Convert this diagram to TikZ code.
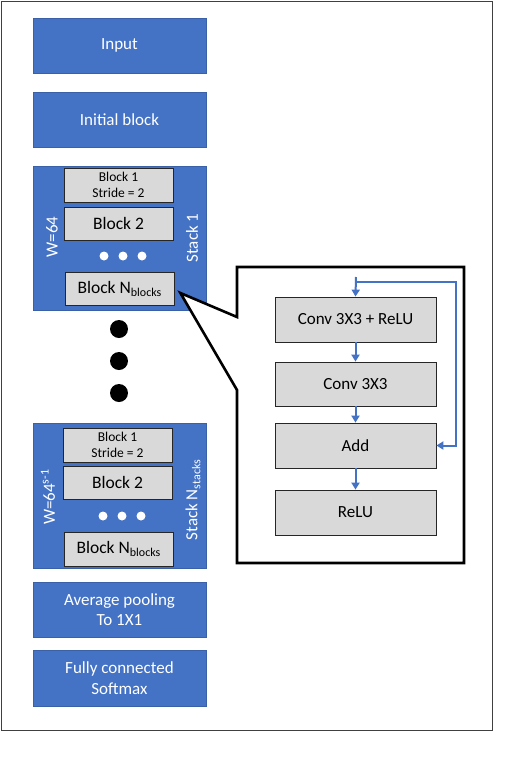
\documentclass[tikz,border=0pt]{standalone}
\usepackage{fontspec}
\setmainfont{Carlito}
\usetikzlibrary{arrows.meta,calc}
\definecolor{sblue}{HTML}{4472C4}
\definecolor{sgray}{HTML}{D9D9D9}
\newcommand{\subtxt}[1]{\raisebox{-0.35ex}{\fontsize{12}{12}\selectfont #1}}
\begin{document}
\begin{tikzpicture}[x=1pt,y=-1pt,
  bluebox/.style={draw=sblue!85!black,line width=0.6pt,fill=sblue,text=white,inner sep=0pt,align=center,font=\fontsize{17}{20.5}\selectfont},
  graybox/.style={draw=black!85,line width=0.8pt,fill=sgray,inner sep=0pt,align=center,font=\fontsize{17.5}{20}\selectfont},
  smallbox/.style={graybox,font=\fontsize{13.5}{15.5}\selectfont},
  sidelabel/.style={text=white,rotate=90,inner sep=0pt,font=\fontsize{17}{19}\selectfont},
  wdot/.style={circle,fill=white,inner sep=0pt,minimum size=9pt},
  bdot/.style={circle,fill=black,inner sep=0pt,minimum size=18pt},
  flow/.style={draw=sblue,line width=2pt,-{Triangle[length=7pt,width=8pt]}},
  innerbox/.style={draw=black!85,line width=0.8pt,fill=sgray,inner sep=0pt,minimum width=161pt,font=\fontsize{17}{20}\selectfont}
]
\useasboundingbox (0,0) rectangle (524,764);
\fill[white] (0,0) rectangle (524,764);
% outer frame
\draw[black!75,line width=1pt] (1,1) rectangle (492,730);

% left column
\node[bluebox,minimum width=173pt,minimum height=55pt] (input) at (119.5,45.5) {Input};
\node[bluebox,minimum width=173pt,minimum height=55pt] (init) at (119.5,119.5) {Initial block};

% stack 1
\node[bluebox,minimum width=173pt,minimum height=144pt] (s1) at (119.5,238) {};
\node[smallbox,minimum width=109pt,minimum height=34pt] (s1b1) at (118.5,185) {Block 1\\Stride = 2};
\node[graybox,minimum width=109pt,minimum height=33pt] (s1b2) at (118.5,223.5) {Block 2};
\node[wdot] (s1d1) at (104,256) {};
\node[wdot] (s1d2) at (123,256) {};
\node[wdot] (s1d3) at (142,256) {};
\node[graybox,minimum width=109pt,minimum height=33pt] (s1bn) at (119.5,288.5) {Block N\subtxt{blocks}};
\node[sidelabel] (s1w) at (52,237) {W=64};
\node[sidelabel] (s1s) at (192,238) {Stack 1};

% big dots
\node[bdot] (bd1) at (119,329) {};
\node[bdot] (bd2) at (119,361) {};
\node[bdot] (bd3) at (119,393) {};

% stack N
\node[bluebox,minimum width=173pt,minimum height=145pt] (sn) at (119.5,495.5) {};
\node[smallbox,minimum width=109pt,minimum height=34pt] (snb1) at (117.5,445) {Block 1\\Stride = 2};
\node[graybox,minimum width=109pt,minimum height=33pt] (snb2) at (117.5,482.5) {Block 2};
\node[wdot] (snd1) at (103,516) {};
\node[wdot] (snd2) at (122,516) {};
\node[wdot] (snd3) at (141,516) {};
\node[graybox,minimum width=109pt,minimum height=34pt] (snbn) at (118.5,549) {Block N\subtxt{blocks}};
\node[sidelabel] (snw) at (48,497) {W=64\textsuperscript{s-1}};
\node[sidelabel] (sns) at (193,500) {Stack N\subtxt{stacks}};

\node[bluebox,minimum width=173pt,minimum height=55pt] (avg) at (119.5,609.5) {Average pooling\\To 1X1};
\node[bluebox,minimum width=173pt,minimum height=56pt] (fc) at (119.5,678) {Fully connected\\Softmax};

% callout
\coordinate (tip) at ($(s1bn.east)+(6,4.5)$);
\draw[black,line width=2.6pt,fill=white,line join=miter]
  (237,267) -- (464,267) -- (464,563) -- (237,563) -- (237,390) -- (tip) -- (237,317) -- cycle;

% inner residual block
\node[innerbox,minimum height=45pt] (c1) at (355.5,319.5) {Conv 3X3 + ReLU};
\node[innerbox,minimum height=44pt] (c2) at (355.5,384) {Conv 3X3};
\node[innerbox,minimum height=45pt] (add) at (355.5,445.5) {Add};
\node[innerbox,minimum height=45pt] (relu) at (355.5,512.5) {ReLU};

\coordinate (in) at (356,277);
\coordinate (split) at (356,282);
\coordinate (rt) at (456,282);
\draw[flow] (in) -- (c1.north);
\draw[flow] (c1.south) -- (c2.north);
\draw[flow] (c2.south) -- (add.north);
\draw[flow] (add.south) -- (relu.north);
\draw[flow] (split) -- (rt) |- (add.east);
\end{tikzpicture}
\end{document}
